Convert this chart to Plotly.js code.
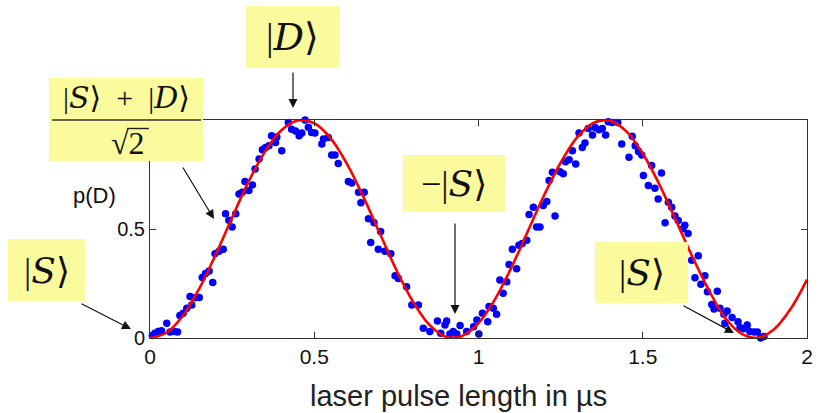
<!DOCTYPE html>
<html>
<head>
<meta charset="utf-8">
<script src="https://cdn.plot.ly/plotly-3.0.1.min.js"></script>
<style>html,body{margin:0;padding:0;background:#fff;}#chart{width:818px;height:413px;}</style>
</head>
<body>
<div id="chart"></div>
<script>
// measured data points (p(D) vs pulse length in µs)
const dataX = [0.007,0.015,0.025,0.035,0.051,0.061,0.074,0.084,0.091,0.101,0.112,0.127,0.122,0.137,0.150,0.159,0.169,0.180,0.191,0.198,0.210,0.223,0.230,0.240,0.250,0.261,0.271,0.281,0.289,0.301,0.312,0.320,0.332,0.342,0.352,0.362,0.370,0.382,0.386,0.401,0.421,0.431,0.443,0.454,0.462,0.472,0.482,0.492,
0.502,0.523,0.528,0.543,0.553,0.563,0.573,0.604,0.614,0.635,0.642,0.652,0.665,0.672,0.682,0.695,0.702,0.715,0.733,0.746,0.756,0.781,0.797,0.817,0.832,0.852,0.875,0.885,0.898,0.903,0.913,0.923,0.934,0.944,0.964,0.985,0.995,
1.001,1.012,1.028,1.032,1.045,1.055,1.065,1.075,1.086,1.093,1.103,1.116,1.123,1.133,1.147,1.154,1.167,1.177,1.187,1.197,1.208,1.215,1.225,1.233,1.248,1.258,1.265,1.276,1.286,1.296,1.306,1.316,1.324,1.334,1.347,1.355,1.367,1.377,1.387,1.395,1.407,1.424,1.436,1.458,1.468,1.477,1.487,1.497,1.502,
1.517,1.527,1.537,1.547,1.557,1.568,1.578,1.588,1.598,1.608,1.622,1.628,1.638,1.649,1.659,1.669,1.677,1.689,1.697,1.710,1.717,1.727,1.735,1.747,1.750,1.757,1.772,1.790,1.796,1.806,1.818,1.826,1.839,1.849,1.859,1.869];
const dataY = [0.011,0.022,0.030,0.033,0.068,0.027,0.030,0.027,0.103,0.113,0.136,0.151,0.190,0.185,0.186,0.278,0.296,0.307,0.255,0.387,0.398,0.407,0.570,0.540,0.509,0.570,0.661,0.669,0.718,0.677,0.702,0.775,0.821,0.864,0.874,0.882,0.928,0.897,0.922,0.859,0.989,0.958,0.950,0.928,0.940,1.000,0.967,0.943,
0.940,0.890,0.913,0.920,0.840,0.840,0.800,0.718,0.711,0.669,0.620,0.669,0.547,0.438,0.529,0.407,0.489,0.398,0.387,0.285,0.273,0.235,0.151,0.151,0.045,0.030,0.078,0.022,0.060,0.078,0.018,0.030,0.018,0.057,0.030,0.052,0.083,
0.018,0.113,0.075,0.144,0.136,0.109,0.266,0.205,0.258,0.337,0.407,0.318,0.425,0.433,0.448,0.566,0.600,0.509,0.509,0.608,0.626,0.722,0.760,0.560,0.763,0.753,0.809,0.818,0.859,0.798,0.940,0.874,0.894,0.961,0.931,0.966,0.955,0.961,0.931,0.992,0.989,0.989,0.890,0.829,0.925,0.882,0.855,0.840,0.745,
0.700,0.791,0.687,0.638,0.757,0.529,0.623,0.600,0.560,0.539,0.501,0.517,0.479,0.357,0.276,0.377,0.246,0.285,0.212,0.154,0.133,0.215,0.136,0.109,0.068,0.124,0.094,0.075,0.048,0.042,0.060,0.030,0.027,0.027,0.000,0.007];

// fitted curve, every 0.05 µs
const fitX = [0,0.05,0.10,0.15,0.20,0.25,0.30,0.35,0.40,0.45,0.50,0.55,0.60,0.65,0.70,0.75,0.80,0.85,0.90,0.95,1.00,1.05,1.10,1.15,1.20,1.25,1.30,1.35,1.40,1.45,1.50,1.55,1.60,1.65,1.70,1.75,1.80,1.85,1.90,1.95,2.00];
const fitY = [0.000,0.024,0.102,0.227,0.383,0.553,0.717,0.855,0.953,0.998,0.985,0.916,0.798,0.646,0.478,0.312,0.168,0.061,0.006,0.009,0.068,0.177,0.323,0.489,0.656,0.804,0.920,0.987,0.997,0.948,0.846,0.706,0.543,0.376,0.223,0.094,0.020,0.001,0.040,0.133,0.268];

const xTicks = [0, 0.5, 1, 1.5, 2];
const xTickText = ['0', '0.5', '1', '1.5', '2'];
const yTicks = [0, 0.5, 1];
const yTickText = ['0', '0.5', ''];   // the "1" label is hidden behind the yellow box in the reference

const xLabel = 'laser pulse length in µs';
const yLabel = 'p(D)';

// pixel -> paper helpers (plot area: x 150..807, y 120..338)
const PL = 150, PR = 807, PT = 120, PB = 338;
const px = v => (v - PL) / (PR - PL);
const py = v => (PB - v) / (PB - PT);

const yellow = '#fbfb9d';
const boxes = [
  {x0: 246, x1: 339, y0: 6, y1: 68},
  {x0: 49, x1: 203, y0: 78, y1: 161},
  {x0: 8, x1: 85, y0: 239, y1: 301},
  {x0: 403, x1: 505, y0: 155, y1: 212},
  {x0: 595, x1: 688, y0: 242, y1: 303}
];
const shapes = boxes.map(b => ({
  type: 'rect', xref: 'paper', yref: 'paper', layer: 'above',
  x0: px(b.x0), x1: px(b.x1), y0: py(b.y1), y1: py(b.y0),
  fillcolor: yellow, line: {width: 0}
}));
// fraction bar
shapes.push({type: 'line', xref: 'paper', yref: 'paper', layer: 'above',
  x0: px(52), x1: px(201), y0: py(120), y1: py(120),
  line: {color: '#333', width: 1.5}});
// radical overline
shapes.push({type: 'line', xref: 'paper', yref: 'paper', layer: 'above',
  x0: px(127), x1: px(149), y0: py(128.5), y1: py(128.5),
  line: {color: '#222', width: 1.4}});

const serif = 'Liberation Serif, DejaVu Serif, serif';
const it = s => '<span style="font-family:\'DejaVu Serif\';font-style:italic;font-weight:normal">' + s + '</span>';
const mathText = (t, cx, cy, size) => ({
  text: t, xref: 'paper', yref: 'paper', x: px(cx), y: py(cy),
  xanchor: 'center', yanchor: 'middle', showarrow: false,
  font: {family: serif, size: size, color: '#111'}
});
const arrow = (hx, hy, tx, ty) => ({
  text: '', xref: 'paper', yref: 'paper', x: px(hx), y: py(hy),
  ax: tx - hx, ay: ty - hy, showarrow: true, arrowhead: 2,
  arrowsize: 1.5, arrowwidth: 1.2, arrowcolor: '#111', standoff: 0
});

const annotations = [
  mathText('|' + it('D') + '⟩', 292.5, 37, 38),
  mathText('|' + it('S') + '⟩  +  |' + it('D') + '⟩', 126, 97, 30),
  mathText('√2', 128, 143, 32),
  mathText('|' + it('S') + '⟩', 46.5, 270, 36),
  mathText('−|' + it('S') + '⟩', 454, 183.5, 36),
  mathText('|' + it('S') + '⟩', 641.5, 272.5, 36),
  arrow(293, 108, 293, 71),
  arrow(214, 219, 182, 166),
  arrow(131, 329, 80, 303),
  arrow(455, 314, 455, 222),
  arrow(734, 333, 682, 305),
  {text: yLabel, xref: 'paper', yref: 'paper', x: px(94), y: py(195),
   xanchor: 'center', yanchor: 'middle', showarrow: false,
   font: {family: 'Liberation Sans, Arial, sans-serif', size: 22, color: '#111'}},
  {text: xLabel, xref: 'paper', yref: 'paper', x: px(458), y: py(396),
   xanchor: 'center', yanchor: 'middle', showarrow: false,
   font: {family: 'Liberation Sans, Arial, sans-serif', size: 29, color: '#222'}}
];

const traces = [
  {x: dataX, y: dataY, type: 'scatter', mode: 'markers', cliponaxis: false,
   marker: {color: '#0000ff', size: 7.5, line: {width: 0}}, hoverinfo: 'skip'},
  {x: fitX, y: fitY, type: 'scatter', mode: 'lines',
   line: {color: '#ff0000', width: 2.6, shape: 'spline'}, hoverinfo: 'skip'}
];

const axisCommon = {
  showline: true, linecolor: '#333', linewidth: 1, mirror: 'allticks',
  ticks: 'inside', ticklen: 6, tickcolor: '#333', tickwidth: 1,
  showgrid: false, zeroline: false,
  tickfont: {family: 'Liberation Sans, Arial, sans-serif', size: 21, color: '#111'}
};

const layout = {
  width: 818, height: 413,
  margin: {l: 150, r: 11, t: 120, b: 75, pad: 0},
  paper_bgcolor: '#fff', plot_bgcolor: '#fff',
  showlegend: false,
  xaxis: Object.assign({}, axisCommon, {range: [0, 2], tickmode: 'array', tickvals: xTicks, ticktext: xTickText}),
  yaxis: Object.assign({}, axisCommon, {range: [0, 1], tickmode: 'array', tickvals: yTicks, ticktext: yTickText,
    tickfont: {family: 'Liberation Sans, Arial, sans-serif', size: 20, color: '#111'}}),
  shapes: shapes,
  annotations: annotations
};

Plotly.newPlot('chart', traces, layout, {staticPlot: true, displayModeBar: false});
</script>
</body>
</html>
